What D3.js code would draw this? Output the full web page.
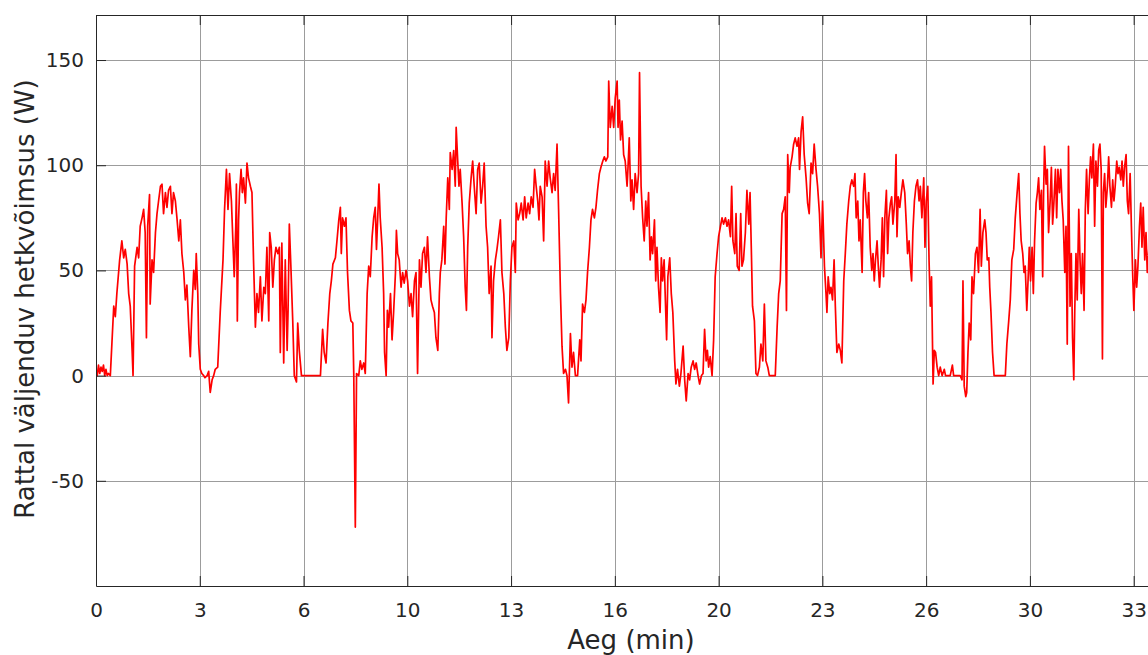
<!DOCTYPE html>
<html>
<head>
<meta charset="utf-8">
<script src="https://cdn.jsdelivr.net/npm/d3@7"></script>
<style>
  html, body { margin: 0; padding: 0; background: #fff; }
</style>
</head>
<body>
<div id="chart"></div>
<script>
/**
 * Data.
 */
// Measured samples: [time in minutes, power in watts].
const powerSamples = [
  [0, 3], [0.04, 0], [0.08, 5], [0.12, 1], [0.16, 4], [0.2, 2], [0.24, 5], [0.28, 0], [0.32, 3], [0.36, 0], [0.4, 1], [0.46, 0],
  [0.51, 15], [0.57, 33], [0.62, 28], [0.67, 39], [0.76, 55], [0.83, 64], [0.89, 56], [0.94, 60], [1.0, 53], [1.05, 39],
  [1.1, 33], [1.16, 12], [1.19, 0], [1.24, 52], [1.32, 61], [1.37, 56], [1.42, 71], [1.48, 75], [1.53, 79], [1.58, 68],
  [1.62, 18], [1.66, 71], [1.72, 86], [1.74, 34], [1.8, 55], [1.85, 49], [1.91, 68], [1.96, 77], [2.01, 83], [2.07, 90],
  [2.12, 91], [2.17, 77], [2.23, 87], [2.28, 80], [2.33, 88], [2.39, 90], [2.44, 77], [2.49, 87], [2.55, 83], [2.6, 75],
  [2.66, 64], [2.71, 74], [2.76, 58], [2.82, 49], [2.87, 36], [2.92, 43], [2.98, 23], [3.03, 9], [3.08, 31], [3.14, 50],
  [3.19, 41], [3.22, 58], [3.27, 39], [3.3, 15], [3.35, 3], [3.4, 1], [3.46, 0], [3.5, -1], [3.57, 0], [3.62, 2],
  [3.67, -8], [3.73, -2], [3.78, 0], [3.83, 3], [3.91, 4], [3.99, 30], [4.08, 55], [4.13, 79], [4.19, 98], [4.24, 79],
  [4.29, 96], [4.35, 83], [4.4, 63], [4.44, 47], [4.49, 71], [4.51, 91], [4.54, 26], [4.58, 74], [4.61, 87], [4.66, 98],
  [4.7, 87], [4.74, 94], [4.8, 82], [4.85, 101], [4.9, 94], [4.96, 90], [5.01, 87], [5.06, 55], [5.12, 23], [5.17, 39],
  [5.22, 30], [5.28, 47], [5.33, 26], [5.39, 42],
  [5.44, 39], [5.49, 61], [5.55, 26], [5.58, 68], [5.63, 61], [5.68, 42], [5.73, 55], [5.78, 61], [5.84, 58], [5.89, 61],
  [5.92, 11], [5.97, 63], [6.03, 6], [6.08, 55], [6.14, 12], [6.17, 31], [6.21, 72], [6.26, 52], [6.32, 26], [6.37, 0],
  [6.44, -3], [6.48, 25], [6.53, 12], [6.6, 0], [7.21, 0], [7.28, 22], [7.33, 11], [7.39, 6], [7.45, 25], [7.51, 39],
  [7.56, 45], [7.61, 53], [7.69, 56], [7.74, 64], [7.8, 74], [7.85, 80], [7.88, 58], [7.92, 75], [7.98, 71], [8.03, 75],
  [8.08, 49], [8.14, 31], [8.19, 26], [8.25, 25], [8.28, 1], [8.33, -72], [8.37, 1], [8.44, 0], [8.49, 7], [8.54, 3],
  [8.6, 6], [8.65, 1], [8.71, 39], [8.76, 52], [8.81, 47], [8.87, 66], [8.92, 75], [8.97, 80], [9.01, 60], [9.05, 75],
  [9.09, 91], [9.13, 75], [9.19, 61], [9.24, 39], [9.27, 11], [9.32, 0], [9.36, 31], [9.4, 23], [9.46, 39], [9.51, 17],
  [9.56, 30], [9.62, 49], [9.65, 69], [9.69, 58], [9.74, 55], [9.8, 42], [9.85, 49], [9.9, 44], [9.96, 50], [10.01, 45],
  [10.07, 33], [10.12, 39], [10.17, 28], [10.23, 45], [10.28, 49], [10.33, 1], [10.39, 55], [10.44, 42], [10.49, 58],
  [10.55, 61], [10.6, 49], [10.65, 66], [10.71, 47], [10.76, 36], [10.81, 33], [10.87, 30], [10.92, 18], [10.98, 12],
  [11.03, 39],
  [11.06, 49], [11.11, 55], [11.17, 71], [11.21, 53], [11.25, 75], [11.3, 94], [11.35, 79], [11.38, 106], [11.44, 98],
  [11.49, 107], [11.54, 90], [11.57, 118], [11.62, 102], [11.66, 90], [11.7, 98], [11.76, 82], [11.81, 66], [11.86, 42],
  [11.9, 31], [11.94, 61], [11.99, 82], [12.05, 94], [12.1, 102], [12.15, 90], [12.21, 77], [12.26, 98], [12.31, 101],
  [12.37, 82], [12.42, 90], [12.47, 101], [12.53, 71], [12.58, 61], [12.63, 39], [12.69, 52], [12.72, 18], [12.77, 45],
  [12.83, 55], [12.88, 60], [12.93, 66], [12.99, 74], [13.04, 49], [13.1, 39], [13.15, 23], [13.2, 12], [13.26, 18],
  [13.31, 45], [13.36, 61], [13.42, 64], [13.47, 49], [13.5, 82], [13.56, 74], [13.61, 77], [13.66, 82], [13.72, 74],
  [13.77, 85], [13.82, 75], [13.88, 82], [13.93, 77], [13.98, 85], [14.04, 80], [14.09, 98], [14.14, 90], [14.19, 83],
  [14.23, 74], [14.27, 90], [14.33, 85], [14.38, 64], [14.43, 102], [14.49, 90], [14.54, 102], [14.59, 94], [14.65, 87],
  [14.7, 96], [14.75, 88], [14.81, 110], [14.86, 79], [14.92, 39], [14.97, 14], [15.02, 1], [15.08, 3], [15.13, 0],
  [15.18, -13], [15.24, 20], [15.29, 4], [15.34, 11], [15.4, 0], [15.47, 0], [15.54, 17], [15.58, 7], [15.63, 34],
  [15.69, 30], [15.74, 36], [15.79, 49], [15.85, 61], [15.9, 74], [15.95, 79], [16.01, 75], [16.06, 80], [16.11, 88],
  [16.17, 96], [16.22, 99], [16.28, 102], [16.33, 104], [16.38, 102], [16.44, 104], [16.47, 140], [16.52, 118],
  [16.58, 128], [16.63, 118],
  [16.68, 132], [16.74, 140], [16.77, 118], [16.81, 131], [16.85, 112], [16.9, 121], [16.95, 105], [17.0, 102],
  [17.06, 90], [17.09, 99], [17.13, 113], [17.18, 83], [17.22, 93], [17.27, 79], [17.32, 96], [17.38, 87], [17.43, 96],
  [17.46, 144], [17.51, 90], [17.56, 75], [17.61, 64], [17.66, 83], [17.7, 71], [17.75, 87], [17.8, 55], [17.84, 66],
  [17.88, 58], [17.94, 74], [17.98, 45], [18.02, 61], [18.07, 42], [18.12, 30], [18.16, 56], [18.2, 45], [18.25, 55],
  [18.29, 36], [18.33, 17], [18.37, 47], [18.43, 56], [18.48, 39], [18.53, 30], [18.59, 7], [18.63, -4], [18.68, 3],
  [18.74, -5], [18.79, 1], [18.86, 14], [18.91, -2], [18.96, -12], [19.02, 1], [19.07, -2], [19.12, 4], [19.18, 7],
  [19.23, 3], [19.28, 6], [19.34, 0], [19.39, -4], [19.45, 0], [19.5, 1], [19.55, 22], [19.6, 7], [19.64, 12],
  [19.68, 4], [19.73, 9], [19.79, 0], [19.84, 17], [19.89, 47], [19.95, 58], [20.0, 66], [20.06, 71], [20.11, 75],
  [20.16, 72], [20.22, 75], [20.27, 71], [20.32, 74], [20.38, 66], [20.42, 90], [20.46, 64], [20.52, 58], [20.56, 77],
  [20.6, 52], [20.66, 50], [20.71, 77], [20.75, 52], [20.8, 55], [20.86, 68], [20.91, 88], [20.97, 72], [21.01, 87],
  [21.05, 61], [21.09, 33], [21.15, 26], [21.2, 1], [21.25, 0], [21.31, 4], [21.36, 15], [21.42, 7], [21.47, 34],
  [21.52, 7], [21.58, 4], [21.63, 0], [21.82, 0], [21.88, 23], [21.93, 39], [21.98, 45], [22.04, 77], [22.09, 79],
  [22.14, 85], [22.18, 31], [22.22, 105], [22.27, 87],
  [22.3, 99], [22.36, 104], [22.41, 110], [22.46, 113], [22.52, 109], [22.57, 113], [22.6, 98], [22.65, 116],
  [22.7, 123], [22.75, 105], [22.81, 94], [22.86, 82], [22.91, 77], [22.97, 101], [23.02, 96], [23.07, 110], [23.13, 98],
  [23.18, 90], [23.24, 77], [23.29, 56], [23.34, 83], [23.4, 52], [23.45, 39], [23.48, 30], [23.52, 47], [23.57, 39],
  [23.61, 42], [23.66, 36], [23.71, 55], [23.75, 33], [23.8, 11], [23.86, 15], [23.91, 12], [23.96, 6], [24.02, 45],
  [24.07, 58], [24.12, 72], [24.18, 83], [24.23, 90], [24.28, 93], [24.34, 90], [24.38, 96], [24.42, 75], [24.47, 83],
  [24.51, 64], [24.55, 74], [24.61, 49], [24.65, 87], [24.69, 96], [24.73, 83], [24.78, 75], [24.82, 87], [24.87, 61],
  [24.92, 50], [24.96, 58], [25.0, 45], [25.04, 55], [25.09, 64], [25.13, 52], [25.17, 42], [25.22, 55], [25.26, 75],
  [25.3, 47], [25.34, 75], [25.39, 88], [25.43, 58], [25.47, 75], [25.52, 82], [25.56, 85], [25.6, 72], [25.66, 83],
  [25.7, 105], [25.73, 66], [25.77, 85], [25.82, 80], [25.87, 87], [25.92, 93], [25.98, 87], [26.03, 72], [26.07, 58],
  [26.12, 64], [26.16, 52], [26.2, 45], [26.24, 68], [26.29, 83], [26.34, 90], [26.39, 93], [26.44, 83], [26.48, 90],
  [26.53, 75], [26.59, 94], [26.63, 61], [26.67, 83], [26.72, 90], [26.76, 55], [26.8, 33], [26.84, 47], [26.89, -4],
  [26.93, 12], [26.97, 11], [27.02, 4], [27.07, 0], [27.12, 4], [27.18, 0], [27.25, 3], [27.29, 0], [27.44, 0],
  [27.51, 5], [27.55, 0], [27.76, 0], [27.82, -2], [27.85, 45], [27.89, -5], [27.94, -10], [27.97, -8],
  [28.01, 11], [28.05, 25], [28.1, 17], [28.14, 47], [28.19, 39], [28.25, 58], [28.3, 61], [28.35, 49], [28.4, 79],
  [28.44, 52], [28.49, 68], [28.55, 74], [28.59, 68], [28.63, 55], [28.68, 56], [28.71, 42], [28.75, 30], [28.8, 11],
  [28.85, 0], [29.21, 0], [29.26, 15], [29.32, 26], [29.37, 36], [29.42, 55], [29.48, 60], [29.53, 75], [29.59, 87],
  [29.64, 96], [29.68, 77], [29.72, 64], [29.77, 58], [29.81, 49], [29.85, 52], [29.9, 31], [29.94, 45], [29.98, 61],
  [30.02, 45], [30.07, 61], [30.11, 39], [30.15, 64], [30.2, 82], [30.24, 87], [30.28, 94], [30.32, 79], [30.37, 88],
  [30.41, 47], [30.44, 87], [30.47, 109], [30.52, 91], [30.56, 98], [30.6, 68], [30.65, 83], [30.69, 99], [30.73, 72],
  [30.77, 82], [30.82, 98], [30.86, 75], [30.9, 98], [30.95, 87], [30.99, 98], [31.03, 83], [31.07, 74], [31.12, 49],
  [31.16, 71], [31.2, 15], [31.24, 109], [31.29, 33], [31.33, 58], [31.37, 18], [31.41, -2], [31.44, 30], [31.48, 58],
  [31.52, 36], [31.57, 79], [31.61, 55], [31.65, 39], [31.69, 58], [31.74, 31], [31.78, 79], [31.82, 98], [31.87, 77],
  [31.91, 93], [31.95, 104], [31.99, 94], [32.04, 110], [32.08, 71], [32.12, 102], [32.17, 90], [32.21, 107],
  [32.25, 110], [32.29, 98], [32.33, 8], [32.36, 87], [32.4, 96], [32.44, 80], [32.49, 90], [32.53, 104], [32.57, 90],
  [32.62, 80], [32.66, 93], [32.7, 83], [32.74, 90], [32.79, 102], [32.83, 96], [32.87, 99], [32.92, 93], [32.96, 102],
  [33.0, 90], [33.04, 99], [33.09, 105], [33.13, 83], [33.17, 77], [33.22, 96], [33.26, 71], [33.3, 49], [33.34, 31],
  [33.39, 55], [33.43, 42], [33.47, 52], [33.52, 71], [33.56, 82], [33.6, 61], [33.64, 80], [33.69, 55], [33.73, 68],
  [33.77, 49], [33.82, 60]
];

// Ticks every 200 s; labels show the whole minutes.
const xTickValues = [0, 10 / 3, 20 / 3, 10, 40 / 3, 50 / 3, 20, 70 / 3, 80 / 3, 30, 100 / 3];
const xTickLabels = ["0", "3", "6", "10", "13", "16", "20", "23", "26", "30", "33"];
const yTickValues = [-50, 0, 50, 100, 150];
const yTickLabels = ["-50", "0", "50", "100", "150"];

const xDomain = [0, 34.3];
const yDomain = [-100, 171.4];

const xLabel = "Aeg (min)";
const yLabel = "Rattal väljenduv hetkvõimsus (W)";

/**
 * Layout.
 */
const width = 1148;
const height = 655;
const plot = { left: 96, top: 15, right: 96 + 34.3 * 31.13, bottom: 586 };
const fontFamily = "'DejaVu Sans', Verdana, sans-serif";
const axisColor = "#262626";

const svg = d3
  .select("#chart")
  .append("svg")
  .attr("width", width)
  .attr("height", height)
  .style("display", "block");

svg.append("rect").attr("width", width).attr("height", height).attr("fill", "#fff");

// Scales.
const x = d3.scaleLinear().domain(xDomain).range([plot.left, plot.right]);
const y = d3.scaleLinear().domain(yDomain).range([plot.bottom, plot.top]);

/**
 * Grid.
 */
const grid = svg.append("g").attr("stroke", "#9c9c9c").attr("stroke-width", 1);

grid
  .selectAll("line.vgrid")
  .data(xTickValues.slice(1))
  .join("line")
  .attr("class", "vgrid")
  .attr("x1", (d) => Math.round(x(d)) + 0.5)
  .attr("x2", (d) => Math.round(x(d)) + 0.5)
  .attr("y1", plot.top)
  .attr("y2", plot.bottom);

grid
  .selectAll("line.hgrid")
  .data(yTickValues)
  .join("line")
  .attr("class", "hgrid")
  .attr("x1", plot.left)
  .attr("x2", plot.right)
  .attr("y1", (d) => Math.round(y(d)) + 0.5)
  .attr("y2", (d) => Math.round(y(d)) + 0.5);

/**
 * Data line.
 */
const clipId = "plot-clip";
svg
  .append("clipPath")
  .attr("id", clipId)
  .append("rect")
  .attr("x", plot.left)
  .attr("y", plot.top)
  .attr("width", plot.right - plot.left)
  .attr("height", plot.bottom - plot.top);

const line = d3
  .line()
  .x((d) => x(d[0]))
  .y((d) => y(d[1]));

svg
  .append("path")
  .datum(powerSamples)
  .attr("clip-path", `url(#${clipId})`)
  .attr("fill", "none")
  .attr("stroke", "#ff0000")
  .attr("stroke-width", 1.7)
  .attr("stroke-linejoin", "round")
  .attr("d", line);

/**
 * Axes.
 */
// Bottom axis with inward ticks.
const xAxis = svg
  .append("g")
  .attr("transform", `translate(0,${plot.bottom})`)
  .call(
    d3
      .axisBottom(x)
      .tickValues(xTickValues)
      .tickFormat((d, i) => xTickLabels[i])
      .tickSizeInner(-10)
      .tickSizeOuter(0)
      .tickPadding(17)
  );

// Top axis, ticks only.
const xAxisTop = svg
  .append("g")
  .attr("transform", `translate(0,${plot.top})`)
  .call(d3.axisTop(x).tickValues(xTickValues).tickFormat("").tickSizeInner(-10).tickSizeOuter(0));

// Left axis with inward ticks (plain hyphen for the minus sign).
const yAxis = svg
  .append("g")
  .attr("transform", `translate(${plot.left},0)`)
  .call(
    d3
      .axisLeft(y)
      .tickValues(yTickValues)
      .tickFormat((d, i) => yTickLabels[i])
      .tickSizeInner(-10)
      .tickSizeOuter(0)
      .tickPadding(12)
  );

[xAxis, xAxisTop, yAxis].forEach((g) => {
  g.select(".domain").attr("stroke", axisColor);
  g.selectAll(".tick line").attr("stroke", axisColor);
  g.selectAll(".tick text")
    .attr("fill", axisColor)
    .attr("font-family", fontFamily)
    .attr("font-size", 20);
});

/**
 * Axis labels.
 */
svg
  .append("text")
  .attr("x", 631)
  .attr("y", 649)
  .attr("text-anchor", "middle")
  .attr("font-family", fontFamily)
  .attr("font-size", 26)
  .attr("fill", axisColor)
  .text(xLabel);

svg
  .append("text")
  .attr("transform", "translate(34,299) rotate(-90)")
  .attr("text-anchor", "middle")
  .attr("font-family", fontFamily)
  .attr("font-size", 26)
  .attr("fill", axisColor)
  .text(yLabel);
</script>
</body>
</html>
